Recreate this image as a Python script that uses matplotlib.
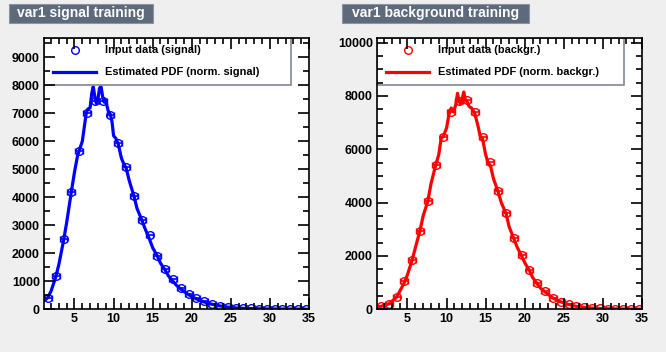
import numpy as np
import matplotlib
matplotlib.use("Agg")
import matplotlib.pyplot as plt
from matplotlib.patches import Rectangle
from matplotlib.ticker import MultipleLocator

plt.rcParams['font.family'] = ['Liberation Sans', 'DejaVu Sans']
plt.rcParams['font.weight'] = 'bold'

# histogram bin centres (bin width 1)
bin_centres = [1.6 + i for i in range(34)]

sig_hist = [400, 1200, 2500, 4200, 5650, 7000, 7450, 7450, 6950, 5950,
            5100, 4050, 3200, 2650, 1900, 1450, 1100, 750, 550, 400,
            300, 200, 130, 90, 60, 40, 30, 25, 20, 15, 12, 10, 8, 6]
bkg_hist = [120, 200, 470, 1050, 1840, 2930, 4050, 5410, 6470, 7410,
            7800, 7850, 7410, 6470, 5510, 4430, 3620, 2690, 2030, 1470,
            970, 690, 410, 290, 190, 125, 80, 50, 35, 25, 20, 15, 10, 8]

# estimated PDF curves
sig_pdf_x = [1.1, 1.6, 2.0, 2.6, 3.0, 3.6, 4.0, 4.6, 5.0, 5.4, 5.7, 6.0, 6.3,
             6.5, 6.7, 7.0, 7.2, 7.4, 7.6, 7.8, 8.0, 8.2, 8.4, 8.6, 8.8, 9.0,
             9.3, 9.6, 9.8, 10.0, 10.3, 10.6, 11.0, 11.3, 11.6, 12.0, 12.6,
             13.0, 13.6, 14.0, 14.6, 15.0, 15.6, 16.0, 16.6, 17.0, 17.6, 18.0,
             18.6, 19.6, 20.6, 21.6, 22.6, 23.6, 24.6, 25.6, 26.6, 28, 30, 32, 35]
sig_pdf_y = [300, 420, 650, 1150, 1600, 2450, 3100, 4200, 4900, 5500, 5750,
             6000, 6600, 7000, 7150, 7200, 7700, 7950, 7600, 7350, 7500, 7900,
             7950, 7600, 7400, 7450, 7100, 6950, 6700, 6200, 6100, 5900, 5400,
             5200, 5050, 4600, 4050, 3600, 3200, 2900, 2500, 2200, 1900, 1650,
             1400, 1200, 1000, 870, 720, 520, 370, 260, 180, 120, 80, 50, 35,
             20, 12, 8, 5]

bkg_pdf_x = [1.1, 1.6, 2.6, 3.6, 4.6, 5.0, 5.6, 6.0, 6.6, 7.0, 7.6, 8.0, 8.6,
             9.0, 9.3, 9.6, 10.0, 10.3, 10.6, 10.9, 11.2, 11.4, 11.6, 11.8,
             12.0, 12.2, 12.4, 12.6, 12.9, 13.2, 13.6, 14.0, 14.3, 14.6, 15.0,
             15.3, 15.6, 16.0, 16.6, 17.0, 17.6, 18.0, 18.6, 19.0, 19.6, 20.0,
             20.6, 21.0, 21.6, 22.0, 22.6, 23.6, 24.6, 25.6, 26.6, 27.6, 28.6,
             30, 32, 35]
bkg_pdf_y = [80, 110, 200, 450, 1000, 1300, 1850, 2300, 2950, 3500, 4050,
             4700, 5400, 5800, 6400, 6500, 6800, 7300, 7550, 7400, 7700, 8100,
             7800, 7700, 7900, 8150, 7850, 7800, 7600, 7550, 7350, 6900, 6500,
             6400, 5800, 5500, 5400, 4900, 4400, 4000, 3600, 3100, 2650, 2350,
             2000, 1750, 1450, 1200, 950, 800, 650, 420, 280, 180, 110, 70, 45,
             25, 12, 5]

titles = ["var1 signal training", "var1 background training"]
legend_labels = [("Input data (signal)", "Estimated PDF (norm. signal)"),
                 ("Input data (backgr.)", "Estimated PDF (norm. backgr.)")]

W, H = 666, 352
fig = plt.figure(figsize=(W / 100, H / 100), dpi=100)
fig.patch.set_facecolor('#efefef')


def draw_panel(left_px, hist, pdf_x, pdf_y, color, ymax, ymajor, yminor,
               title, title_w, labels):
    ax = fig.add_axes([left_px / W, 42.7 / H, 265 / W, 271.3 / H])
    ax.set_facecolor('white')
    ax.set_axisbelow(False)
    ax.errorbar(bin_centres, hist, xerr=0.5, fmt='o', ms=5.5, mfc='none',
                mec=color, mew=1.0, ecolor=color, elinewidth=1.2, capsize=2.5,
                capthick=1.2, zorder=1)
    ax.plot(pdf_x, pdf_y, color=color, lw=2.3, zorder=1.5)
    ax.set_xlim(1.1, 35)
    ax.set_ylim(0, ymax)
    ax.xaxis.set_major_locator(MultipleLocator(5))
    ax.xaxis.set_minor_locator(MultipleLocator(1))
    ax.yaxis.set_major_locator(MultipleLocator(ymajor))
    ax.yaxis.set_minor_locator(MultipleLocator(yminor))
    ax.tick_params(which='both', direction='in', top=True, right=True,
                   labelsize=9, width=1.2, pad=3)
    ax.tick_params(which='major', length=8)
    ax.tick_params(which='minor', length=4)
    for lab in ax.get_xticklabels() + ax.get_yticklabels():
        lab.set_fontweight('bold')
    xt = ax.get_xticks()
    ax.set_xticks([t for t in xt if 5 <= t <= 35])
    for s in ax.spines.values():
        s.set_linewidth(1.2)

    # legend box (below the axis ticks, above the data)
    lw_frac = (291 - 44) / 265
    lh_frac = (85 - 38) / 271.3
    ax.add_patch(Rectangle((0, 1 - lh_frac), lw_frac, lh_frac,
                           transform=ax.transAxes, facecolor='white',
                           edgecolor='#7f8894', lw=1.2, zorder=2))
    ax.plot([0.117], [1 - 0.043], 'o', ms=5.5, mfc='none', mec=color,
            transform=ax.transAxes, zorder=2.2, clip_on=False)
    ax.plot([0.035, 0.195], [1 - 0.127, 1 - 0.127], color=color, lw=2.3,
            transform=ax.transAxes, zorder=2.2, clip_on=False)
    ax.text(0.23, 1 - 0.043, labels[0], transform=ax.transAxes, fontsize=7.9,
            fontweight='bold', va='center', zorder=2.3)
    ax.text(0.23, 1 - 0.127, labels[1], transform=ax.transAxes, fontsize=7.9,
            fontweight='bold', va='center', zorder=2.3)

    # title box
    fig.patches.append(Rectangle(((left_px - 35) / W, 1 - 23 / H),
                                 title_w / W, 19 / H,
                                 transform=fig.transFigure,
                                 facecolor='#5d6a7c', edgecolor='#8a94a3',
                                 lw=0.8))
    fig.text((left_px - 35 + title_w / 2) / W, 1 - 13.5 / H, title,
             color='white', fontsize=10, fontweight='bold',
             ha='center', va='center')
    return ax


draw_panel(44, sig_hist, sig_pdf_x, sig_pdf_y, '#0000ff', 9690, 1000, 500,
           titles[0], 144, legend_labels[0])
draw_panel(377, bkg_hist, bkg_pdf_x, bkg_pdf_y, '#ff0000', 10175, 2000, 500,
           titles[1], 187, legend_labels[1])

fig.savefig("out.png", dpi=100, facecolor=fig.get_facecolor())
